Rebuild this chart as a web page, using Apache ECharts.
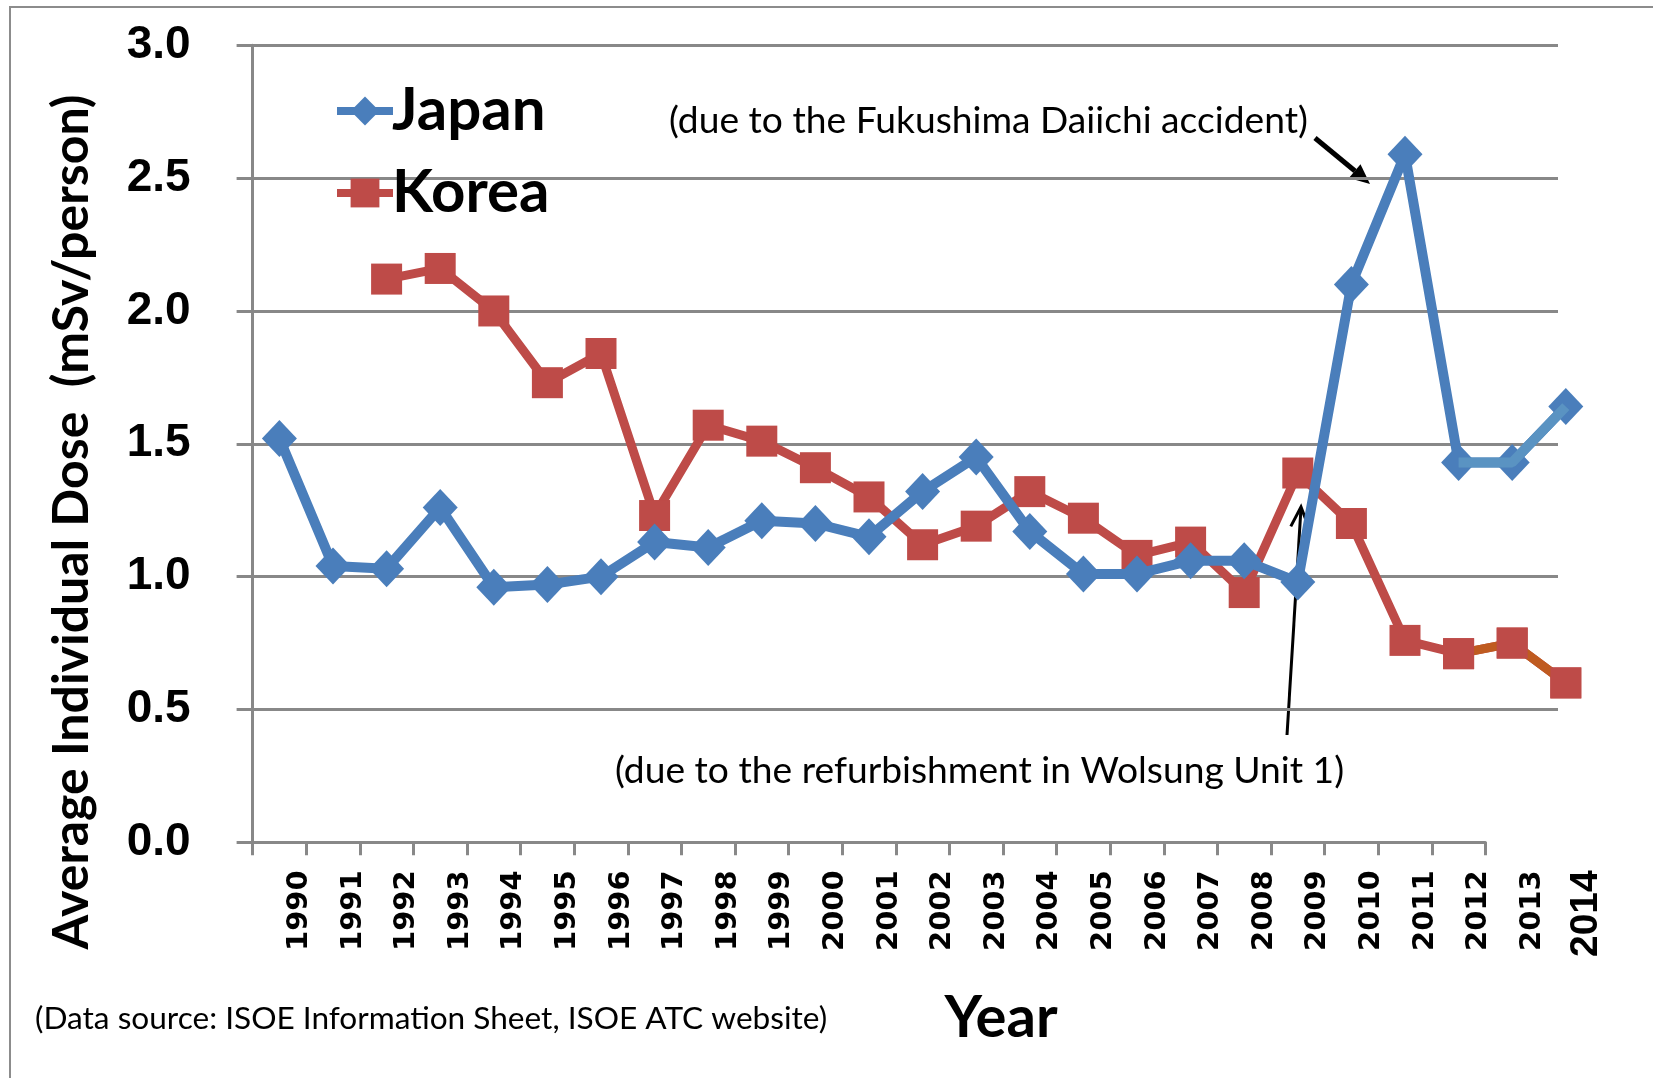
<!DOCTYPE html>
<html><head><meta charset="utf-8">
<script src="https://cdn.jsdelivr.net/npm/echarts@6/dist/echarts.min.js"></script>
<style>html,body{margin:0;padding:0;background:#fff}#c{width:1653px;height:1078px}</style>
</head><body><div id="c"></div><script>
const years = ['1990','1991','1992','1993','1994','1995','1996','1997','1998','1999','2000','2001','2002','2003','2004','2005','2006','2007','2008','2009','2010','2011','2012','2013','2014'];
const japanValues = [1.52,1.04,1.03,1.26,0.96,0.97,1.00,1.13,1.11,1.21,1.20,1.15,1.32,1.45,1.17,1.01,1.01,1.06,1.06,0.98,2.10,2.59,1.43,1.43,1.64];
const koreaValues = [null,null,2.12,2.16,2.00,1.73,1.84,1.23,1.57,1.51,1.41,1.30,1.12,1.19,1.32,1.22,1.08,1.13,0.94,1.39,1.20,0.76,0.71,0.75,0.60];
const yMin = 0, yMax = 3.0, yStep = 0.5;
const tailStart = 22; // 2012 onward drawn in a different shade

const GRID_LEFT = 252.6, GRID_TOP = 45.3, CAT_W = 53.6;
const UNIT = (842.3 - 45.3) / 3.0;
const GREY = '#888888';
const JAPAN = '#4A7EBB', KOREA = '#BE4B48', JAPAN_TAIL = '#5A93C2', KOREA_TAIL = '#BF5B20';

const tail = arr => arr.map((v, i) => i >= tailStart ? v : null);

const chart = echarts.init(document.getElementById('c'));
chart.setOption({
  backgroundColor: '#ffffff',
  animation: false,
  legend: {
    data: ['Japan', 'Korea'],
    orient: 'vertical',
    left: 328, top: 76,
    itemWidth: 56, itemHeight: 36, itemGap: 22,
    lineStyle: { width: 8 },
    textStyle: { fontFamily: 'Lato', fontWeight: 'bold', fontSize: 60, color: '#000', padding: [0, 0, 0, -6] }
  },
  grid: [
    { left: GRID_LEFT, top: GRID_TOP, width: CAT_W * years.length, height: UNIT * 3.0 },
    { left: GRID_LEFT, top: GRID_TOP, width: 1558 - GRID_LEFT, height: UNIT * 2.5 },
    { left: GRID_LEFT, top: GRID_TOP, width: CAT_W * 23, height: UNIT * 3.0 }
  ],
  xAxis: [
    { gridIndex: 0, type: 'category', data: years, boundaryGap: true,
      axisLine: { show: false }, axisTick: { show: false },
      axisLabel: { interval: 0, rotate: 90, margin: 28, verticalAlign: 'top', lineHeight: 40,
        fontFamily: 'DejaVu Sans', fontWeight: 'bold', fontSize: 29, color: '#000',
        formatter: v => v === '2014' ? '{big|' + v + '}' : v,
        rich: { big: { fontFamily: 'Liberation Sans', fontWeight: 'bold', fontSize: 39, lineHeight: 40, color: '#000' } } } },
    { gridIndex: 1, type: 'category', data: years, show: false },
    { gridIndex: 2, type: 'category', data: years.slice(0, 23), boundaryGap: true,
      axisLine: { show: true, lineStyle: { color: GREY, width: 3 } },
      axisTick: { show: true, interval: 0, length: 13, lineStyle: { color: GREY, width: 3 } },
      axisLabel: { show: false } }
  ],
  yAxis: [
    { gridIndex: 0, type: 'value', min: yMin, max: yMax, interval: yStep,
      axisLine: { show: true, lineStyle: { color: GREY, width: 3 } },
      axisTick: { show: true, length: 16, lineStyle: { color: GREY, width: 3 } },
      splitLine: { show: false },
      axisLabel: { margin: 62, fontFamily: 'Liberation Sans', fontWeight: 'bold', fontSize: 46, color: '#000',
        formatter: v => v.toFixed(1) } },
    { gridIndex: 1, type: 'value', min: 0.5, max: yMax, interval: yStep,
      axisLine: { show: false }, axisTick: { show: false }, axisLabel: { show: false },
      splitLine: { show: true, lineStyle: { color: GREY, width: 3 } } },
    { gridIndex: 2, type: 'value', min: yMin, max: yMax, show: false, splitLine: { show: false } }
  ],
  series: [
    { name: 'Korea', type: 'line', xAxisIndex: 0, yAxisIndex: 0, data: koreaValues, z: 2,
      symbol: 'rect', symbolSize: 31, showAllSymbol: true,
      lineStyle: { color: KOREA, width: 9 }, itemStyle: { color: KOREA, opacity: 1 } },
    { name: 'KoreaTail', type: 'line', xAxisIndex: 0, yAxisIndex: 0, data: tail(koreaValues), z: 3,
      showSymbol: false, silent: true, lineStyle: { color: KOREA_TAIL, width: 9 } },
    { name: 'KoreaTailMarks', type: 'scatter', xAxisIndex: 0, yAxisIndex: 0, data: tail(koreaValues), z: 4,
      symbol: 'rect', symbolSize: 31, silent: true, itemStyle: { color: KOREA, opacity: 1 } },
    { name: 'Japan', type: 'line', xAxisIndex: 0, yAxisIndex: 0, data: japanValues, z: 5,
      symbol: 'diamond', symbolSize: [35, 37], showAllSymbol: true,
      lineStyle: { color: JAPAN, width: 10 }, itemStyle: { color: JAPAN, opacity: 1 } },
    { name: 'JapanTail', type: 'line', xAxisIndex: 0, yAxisIndex: 0, data: tail(japanValues), z: 6,
      showSymbol: false, silent: true, lineStyle: { color: JAPAN_TAIL, width: 10 } }
  ],
  graphic: [
    { type: 'rect', shape: { x: 10, y: 7, width: 1700, height: 1100 }, style: { fill: 'none', stroke: '#8c8c8c', lineWidth: 2 }, z: -10 },
    { type: 'text', x: 72, y: 522, rotation: Math.PI / 2,
      style: { text: 'Average Individual Dose  (mSv/person)', fontFamily: 'Lato', fontWeight: 'bold', fontSize: 50,
        fill: '#000', align: 'center', verticalAlign: 'middle' } },
    { type: 'text', x: 669, y: 121,
      style: { text: '(due to the Fukushima Daiichi accident)', fontFamily: 'Lato', fontSize: 37.2, fill: '#000', align: 'left', verticalAlign: 'middle' } },
    { type: 'text', x: 615, y: 771,
      style: { text: '(due to the refurbishment in Wolsung Unit 1)', fontFamily: 'Lato', fontSize: 37.2, fill: '#000', align: 'left', verticalAlign: 'middle' } },
    { type: 'text', x: 35, y: 1019,
      style: { text: '(Data source: ISOE Information Sheet, ISOE ATC website)', fontFamily: 'Lato', fontSize: 31.6, fill: '#000', align: 'left', verticalAlign: 'middle' } },
    { type: 'text', x: 1001, y: 1018,
      style: { text: 'Year', fontFamily: 'Lato', fontWeight: 'bold', fontSize: 58, fill: '#000', align: 'center', verticalAlign: 'middle' } },
    { type: 'line', shape: { x1: 1315, y1: 138, x2: 1355, y2: 171 }, style: { stroke: '#000', lineWidth: 5 } },
    { type: 'polygon', shape: { points: [[1370, 184], [1348.9, 178.1], [1360.5, 164.3]] }, style: { fill: '#000' } },
    { type: 'line', shape: { x1: 1287, y1: 735, x2: 1301, y2: 508 }, style: { stroke: '#000', lineWidth: 3 } },
    { type: 'polyline', shape: { points: [[1290.8, 526.4], [1301, 507], [1308.8, 527.5]] }, style: { stroke: '#000', lineWidth: 3, fill: 'none' } }
  ]
});
</script></body></html>
